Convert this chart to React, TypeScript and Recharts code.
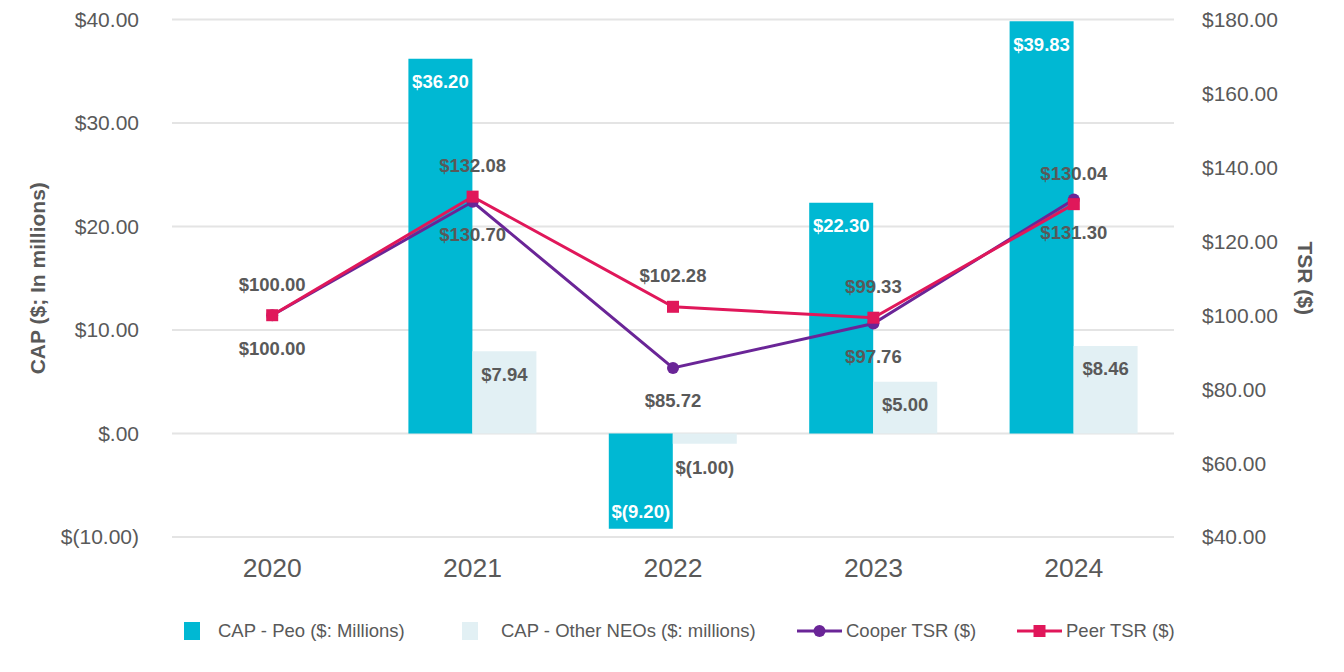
import React from 'react';
import {
  ComposedChart, Bar, Line, XAxis, YAxis, CartesianGrid, LabelList, Label,
} from 'recharts';

const years = ['2020', '2021', '2022', '2023', '2024'];
const capPeo = [null, 36.2, -9.2, 22.3, 39.83];
const capOther = [null, 7.94, -1.0, 5.0, 8.46];
const cooperTsr = [100.0, 130.7, 85.72, 97.76, 131.3];
const peerTsr = [100.0, 132.08, 102.28, 99.33, 130.04];
const capTicks = [-10, 0, 10, 20, 30, 40];
const tsrTicks = [40, 60, 80, 100, 120, 140, 160, 180];

const data = years.map((year, i) => ({
  year,
  peo: capPeo[i],
  other: capOther[i],
  cooper: cooperTsr[i],
  peer: peerTsr[i],
}));

const FONT = '"Liberation Sans", Arial, sans-serif';
const GREY = '#595959';
const CYAN = '#00b8d3';
const PALE = '#e2f0f4';
const PURPLE = '#6a2597';
const PINK = '#e0175a';

const money = (v: number) => {
  if (v === 0) return '$.00';
  if (v < 0) return `$(${Math.abs(v).toFixed(2)})`;
  return `$${v.toFixed(2)}`;
};

// label inside the top of the bar (inside bottom if negative, unless outsideNeg)
function barLabel(color: string, outsideNeg: boolean) {
  return (props: any) => {
    const { x, y, width, height, value } = props;
    if (value == null) return null;
    const top = Math.min(y, y + height);
    const bottom = Math.max(y, y + height);
    let ty = top + 23;
    if (value < 0) ty = outsideNeg ? bottom + 24 : bottom - 17;
    return (
      <text x={x + width / 2} y={ty} textAnchor="middle" dominantBaseline="central"
        fill={color} fontFamily={FONT} fontWeight="bold" fontSize={18.5}>
        {money(value)}
      </text>
    );
  };
}

function lineLabel(dy: number) {
  return (props: any) => {
    const { x, y, value } = props;
    return (
      <text x={x} y={y + dy} textAnchor="middle" dominantBaseline="central"
        fill={GREY} fontFamily={FONT} fontWeight="bold" fontSize={18.5}>
        {money(value)}
      </text>
    );
  };
}

const SquareDot = (props: any) => {
  const { cx, cy } = props;
  if (cx == null || cy == null) return null;
  return <rect x={cx - 6} y={cy - 6} width={12} height={12} fill={PINK} />;
};

function LegendItem({ icon, text, left }: { icon: React.ReactNode; text: string; left: number }) {
  return (
    <div style={{ position: 'absolute', left, top: 620, display: 'flex', alignItems: 'center', height: 22 }}>
      {icon}
      <span style={{ fontFamily: FONT, fontSize: 18.5, color: GREY, marginLeft: 4 }}>{text}</span>
    </div>
  );
}

function LineIcon({ color, square }: { color: string; square?: boolean }) {
  return (
    <svg width={45} height={16}>
      <line x1={0} y1={8} x2={45} y2={8} stroke={color} strokeWidth={3} />
      {square ? <rect x={16.5} y={2} width={12} height={12} fill={color} /> : <circle cx={22.5} cy={8} r={6} fill={color} />}
    </svg>
  );
}

export default function App() {
  return (
    <div style={{ position: 'absolute', left: 0, top: 0, width: 1344, height: 672, background: '#fff' }}>
      <ComposedChart width={1344} height={672} data={data}
        margin={{ top: 19.5, right: 0, bottom: 75, left: 0 }}
        barGap={0} barSize={64}>
        <CartesianGrid yAxisId="cap" vertical={false} stroke="#e4e4e4" strokeWidth={2} />
        <XAxis dataKey="year" axisLine={false} tickLine={false} tickSize={0} tickMargin={21} height={60}
          tick={{ fontFamily: FONT, fontSize: 26.5, fill: GREY }} />
        <YAxis yAxisId="cap" orientation="left" width={172} domain={[-10, 40]} ticks={capTicks}
          tickFormatter={money} axisLine={false} tickLine={false} tickSize={0} tickMargin={33}
          tick={{ fontFamily: FONT, fontSize: 21, fill: GREY }}>
          <Label content={(p: any) => {
            const vb = p.viewBox;
            const cy = vb.y + vb.height / 2;
            return (
              <text x={37} y={cy} transform={`rotate(-90 37 ${cy})`} textAnchor="middle" dominantBaseline="central"
                fill={GREY} fontFamily={FONT} fontWeight="bold" fontSize={21}>CAP ($; In millions)</text>
            );
          }} />
        </YAxis>
        <YAxis yAxisId="tsr" orientation="right" width={170} domain={[40, 180]} ticks={tsrTicks}
          tickFormatter={(v: number) => `$${v.toFixed(2)}`} axisLine={false} tickLine={false} tickSize={0} tickMargin={28}
          tick={{ fontFamily: FONT, fontSize: 21, fill: GREY }}>
          <Label content={(p: any) => {
            const vb = p.viewBox;
            const cy = vb.y + vb.height / 2;
            return (
              <text x={1305} y={cy} transform={`rotate(90 1305 ${cy})`} textAnchor="middle" dominantBaseline="central"
                fill={GREY} fontFamily={FONT} fontWeight="bold" fontSize={21}>TSR ($)</text>
            );
          }} />
        </YAxis>
        <Bar yAxisId="cap" dataKey="peo" name="CAP - Peo ($: Millions)" fill={CYAN} isAnimationActive={false}>
          <LabelList dataKey="peo" content={barLabel('#ffffff', false)} />
        </Bar>
        <Bar yAxisId="cap" dataKey="other" name="CAP - Other NEOs ($: millions)" fill={PALE} isAnimationActive={false}>
          <LabelList dataKey="other" content={barLabel(GREY, true)} />
        </Bar>
        <Line yAxisId="tsr" dataKey="cooper" name="Cooper TSR ($)" stroke={PURPLE} strokeWidth={3}
          dot={{ r: 6, fill: PURPLE, stroke: PURPLE, strokeWidth: 0 }} activeDot={false} isAnimationActive={false}>
          <LabelList dataKey="cooper" content={lineLabel(33)} />
        </Line>
        <Line yAxisId="tsr" dataKey="peer" name="Peer TSR ($)" stroke={PINK} strokeWidth={3}
          dot={<SquareDot />} activeDot={false} isAnimationActive={false}>
          <LabelList dataKey="peer" content={lineLabel(-31)} />
        </Line>
      </ComposedChart>
      <LegendItem left={184} text="CAP - Peo ($: Millions)"
        icon={<div style={{ width: 16, height: 18, background: CYAN, marginRight: 14 }} />} />
      <LegendItem left={462} text="CAP - Other NEOs ($: millions)"
        icon={<div style={{ width: 16, height: 18, background: PALE, marginRight: 19 }} />} />
      <LegendItem left={797} text="Cooper TSR ($)" icon={<LineIcon color={PURPLE} />} />
      <LegendItem left={1017} text="Peer TSR ($)" icon={<LineIcon color={PINK} square />} />
    </div>
  );
}
